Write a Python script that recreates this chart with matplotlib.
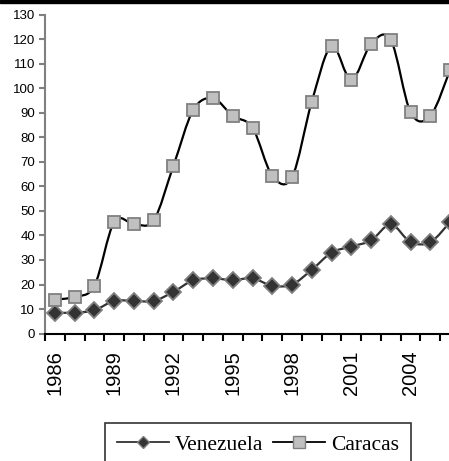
import matplotlib
matplotlib.use("Agg")
import matplotlib.pyplot as plt
from matplotlib.path import Path
from matplotlib.patches import PathPatch, Rectangle
from matplotlib.ticker import FixedLocator

years = list(range(1986, 2007))
venezuela = [8.5, 8.5, 9.5, 13.3, 13.3, 13.3, 17, 21.7, 22.5, 21.8, 22.5, 19.5, 20.0,
             26.0, 33.0, 35.5, 38.0, 44.5, 37.3, 37.3, 45.5]
caracas = [13.8, 15.0, 19.5, 45.5, 44.7, 46.2, 68.5, 91.2, 96.0, 88.8, 84.0, 64.4, 63.8,
           94.6, 117.3, 103.5, 118.2, 119.8, 90.3, 88.8, 107.6]
year_labels = [1986, 1989, 1992, 1995, 1998, 2001, 2004]

W, H = 449, 461


def smooth_path(xs, ys):
    # Excel-like smoothed line: Catmull-Rom segments as cubic beziers
    n = len(xs)
    verts = [(xs[0], ys[0])]
    codes = [Path.MOVETO]
    for i in range(n - 1):
        x0, y0 = (xs[i - 1], ys[i - 1]) if i > 0 else (xs[i], ys[i])
        x1, y1 = xs[i], ys[i]
        x2, y2 = xs[i + 1], ys[i + 1]
        x3, y3 = (xs[i + 2], ys[i + 2]) if i + 2 < n else (x2, y2)
        c1 = (x1 + (x2 - x0) / 6, y1 + (y2 - y0) / 6)
        c2 = (x2 - (x3 - x1) / 6, y2 - (y3 - y1) / 6)
        verts += [c1, c2, (x2, y2)]
        codes += [Path.CURVE4] * 3
    return Path(verts, codes)


fig = plt.figure(figsize=(W / 100, H / 100), dpi=100)
ax = fig.add_axes([45 / W, 127.5 / H, 415 / W, 318.5 / H])

ax.add_patch(PathPatch(smooth_path(years, venezuela), fill=False, edgecolor="#333333", lw=1.6, zorder=2))
ax.add_patch(PathPatch(smooth_path(years, caracas), fill=False, edgecolor="black", lw=1.6, zorder=2))

ax.plot(years, venezuela, ls="none", marker="D", ms=8, mfc="#333333", mec="#808080", mew=1.3, zorder=3)
ax.plot(years, caracas, ls="none", marker="s", ms=9, mfc="#c0c0c0", mec="#808080", mew=1.3, zorder=3)

ax.set_xlim(1985.5, 2006.5)
ax.set_ylim(0, 130)
ax.set_yticks(range(0, 131, 10))
ax.set_xticks(year_labels)
ax.set_xticklabels([str(y) for y in year_labels], rotation=90, fontsize=14.5,
                   family="Liberation Sans")
ax.xaxis.set_minor_locator(FixedLocator([1985.5 + k for k in range(22)]))
ax.tick_params(axis="x", which="major", length=0, pad=12)
ax.tick_params(axis="x", which="minor", length=5, width=1.5, direction="out", color="black")
ax.tick_params(axis="y", length=4, width=1.5, color="#808080", direction="out", pad=3)
for lab in ax.get_yticklabels():
    lab.set_fontsize(9.5)
    lab.set_family("Liberation Sans")

for s in ["top", "right"]:
    ax.spines[s].set_visible(False)
ax.spines["left"].set_color("#808080")
ax.spines["left"].set_linewidth(1.5)
ax.spines["bottom"].set_color("black")
ax.spines["bottom"].set_linewidth(1.5)

h1, = ax.plot([], [], color="#333333", lw=1.3, marker="D", ms=6, mfc="#333333", mec="#808080")
h2, = ax.plot([], [], color="black", lw=1.3, marker="s", ms=8, mfc="#c0c0c0", mec="#808080")
leg = fig.legend([h1, h2], ["Venezuela", "Caracas"], loc="upper left",
                 bbox_to_anchor=(105 / W, 1 - 423 / H), ncol=2, frameon=True, fancybox=False,
                 edgecolor="black", prop={"family": "Liberation Serif", "size": 15.5},
                 handlelength=2.4, handletextpad=0.3, columnspacing=0.45, borderpad=0.55,
                 borderaxespad=0)
leg.get_frame().set_linewidth(1.2)

fig.patches.append(Rectangle((0, 1 - 3 / H), 1, 3 / H, transform=fig.transFigure,
                             color="black", zorder=5))

fig.savefig("out.png", dpi=100)
